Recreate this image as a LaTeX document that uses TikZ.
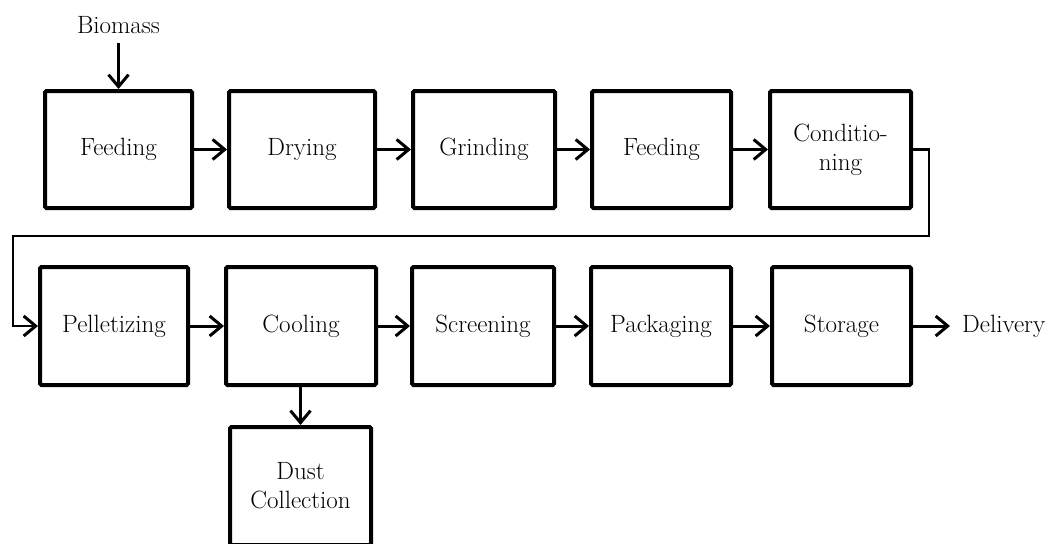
\documentclass[tikz,border=0pt]{standalone}
\usetikzlibrary{arrows.meta}
\begin{document}
\begin{tikzpicture}[x=1pt,y=-1pt,
  box/.style={draw, line width=4pt, rounded corners=1.5pt, inner sep=0pt, align=center,
    font=\fontsize{25}{29}\selectfont},
  lbl/.style={font=\fontsize{25}{29}\selectfont, inner sep=0pt},
  conn/.style={line width=3pt, -{Straight Barb[length=12pt,width=20pt,line width=3pt]}},
  route/.style={line width=2.6pt, -{Straight Barb[length=12pt,width=20pt,line width=3pt]}}]
\useasboundingbox (0,0) rectangle (1059,543);
% top row
\node[box, minimum width=147pt, minimum height=117pt] (f1)  at (118.5,149.5) {Feeding};
\node[box, minimum width=146pt, minimum height=117pt] (dry) at (302,149.5) {Drying};
\node[box, minimum width=142pt, minimum height=117pt] (gri) at (484,149.5) {Grinding};
\node[box, minimum width=139pt, minimum height=117pt] (f2)  at (661.5,149.5) {Feeding};
\node[box, minimum width=141pt, minimum height=117pt] (con) at (840.5,149.5) {Conditio-\\ning};
% bottom row
\node[box, minimum width=148pt, minimum height=118pt] (pel) at (114,326) {Pelletizing};
\node[box, minimum width=150pt, minimum height=118pt] (coo) at (301,326) {Cooling};
\node[box, minimum width=142pt, minimum height=118pt] (scr) at (483,326) {Screening};
\node[box, minimum width=140pt, minimum height=118pt] (pac) at (661,326) {Packaging};
\node[box, minimum width=139pt, minimum height=118pt] (sto) at (841.5,326) {Storage};
% dust
\node[box, minimum width=141pt, minimum height=118pt] (dus) at (300.5,486) {Dust\\Collection};
% labels
\node[lbl] (bm) at (118.5,25) {Biomass};
\node[lbl, anchor=west, inner xsep=12pt] (del) at (950,326) {Delivery};
% connectors
\draw[conn, shorten <=9pt] (bm.south) -- (f1.north);
\draw[conn] (f1) -- (dry);
\draw[conn] (dry) -- (gri);
\draw[conn] (gri) -- (f2);
\draw[conn] (f2) -- (con);
\coordinate (r1) at (929,236);
\coordinate (r2) at (13,236);
\draw[route] (con.east) -| (r1) -- (r2) |- (pel.west);
\draw[conn] (pel) -- (coo);
\draw[conn] (coo) -- (scr);
\draw[conn] (scr) -- (pac);
\draw[conn] (pac) -- (sto);
\draw[conn] (sto) -- (del.west);
\draw[conn] (coo.south -| dus.north) -- (dus.north);
\end{tikzpicture}
\end{document}
